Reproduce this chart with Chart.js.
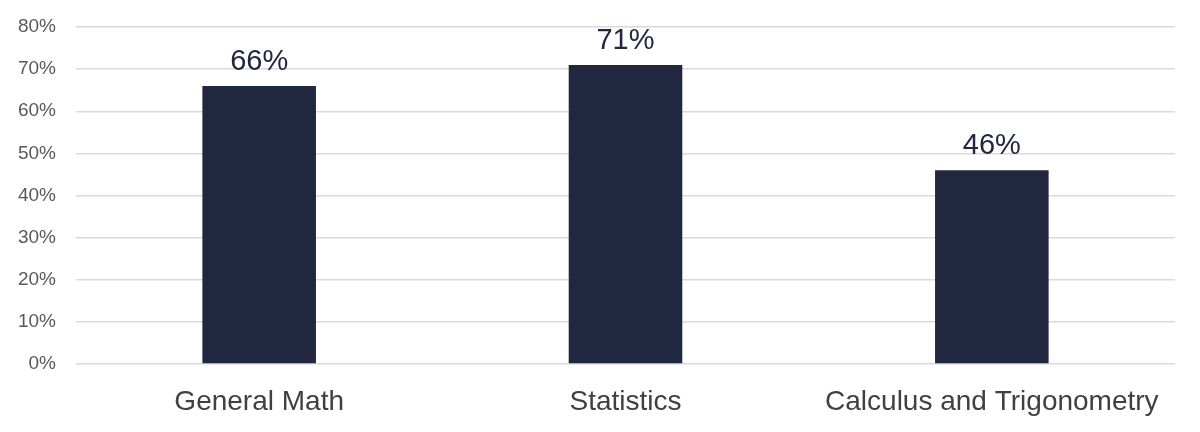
<!DOCTYPE html>
<html>
<head>
<meta charset="utf-8">
<script src="https://cdn.jsdelivr.net/npm/chart.js@4/dist/chart.umd.min.js"></script>
<style>
  html, body { margin: 0; padding: 0; background: #fff; }
  #wrap { width: 1200px; height: 432px; }
</style>
</head>
<body>
<div id="wrap"><canvas id="c"></canvas></div>
<script>
const categories = ['General Math', 'Statistics', 'Calculus and Trigonometry'];
const scores = [66, 71, 46];
const yTicks = [0, 10, 20, 30, 40, 50, 60, 70, 80];

const barColor = '#20273F';

// value labels above each bar
const valueLabels = {
  id: 'valueLabels',
  afterDatasetsDraw(chart) {
    const ctx = chart.ctx;
    const meta = chart.getDatasetMeta(0);
    ctx.save();
    ctx.font = '29px "Liberation Sans", Arial, sans-serif';
    ctx.fillStyle = barColor;
    ctx.textAlign = 'center';
    ctx.textBaseline = 'alphabetic';
    meta.data.forEach((bar, i) => {
      ctx.fillText(scores[i] + '%', bar.x, bar.y - 16);
    });
    ctx.restore();
  }
};

new Chart(document.getElementById('c'), {
  type: 'bar',
  data: {
    labels: categories,
    datasets: [{
      data: scores,
      backgroundColor: barColor,
      barPercentage: 0.31,
      categoryPercentage: 1
    }]
  },
  options: {
    responsive: true,
    maintainAspectRatio: false,
    animation: false,
    layout: { padding: { top: 27, right: 25, left: 0, bottom: 0 } },
    plugins: {
      legend: { display: false },
      tooltip: { enabled: false }
    },
    scales: {
      x: {
        grid: { display: false },
        border: { display: false },
        ticks: {
          color: '#404040',
          font: { family: '"Liberation Sans", Arial, sans-serif', size: 28 },
          padding: 13
        },
        afterFit(scale) { scale.height = 68; scale.paddingLeft = 0; scale.paddingRight = 0; }
      },
      y: {
        min: 0,
        max: 80,
        afterBuildTicks(scale) { scale.ticks = yTicks.map(v => ({ value: v })); },
        grid: { color: '#D9D9D9', lineWidth: 1.5, drawTicks: false },
        border: { display: false },
        ticks: {
          color: '#595959',
          font: { family: '"Liberation Sans", Arial, sans-serif', size: 19 },
          padding: 20,
          callback: v => v + '%'
        },
        afterFit(scale) { scale.width = 76; scale.paddingTop = 0; scale.paddingBottom = 0; }
      }
    }
  },
  plugins: [valueLabels]
});
</script>
</body>
</html>
